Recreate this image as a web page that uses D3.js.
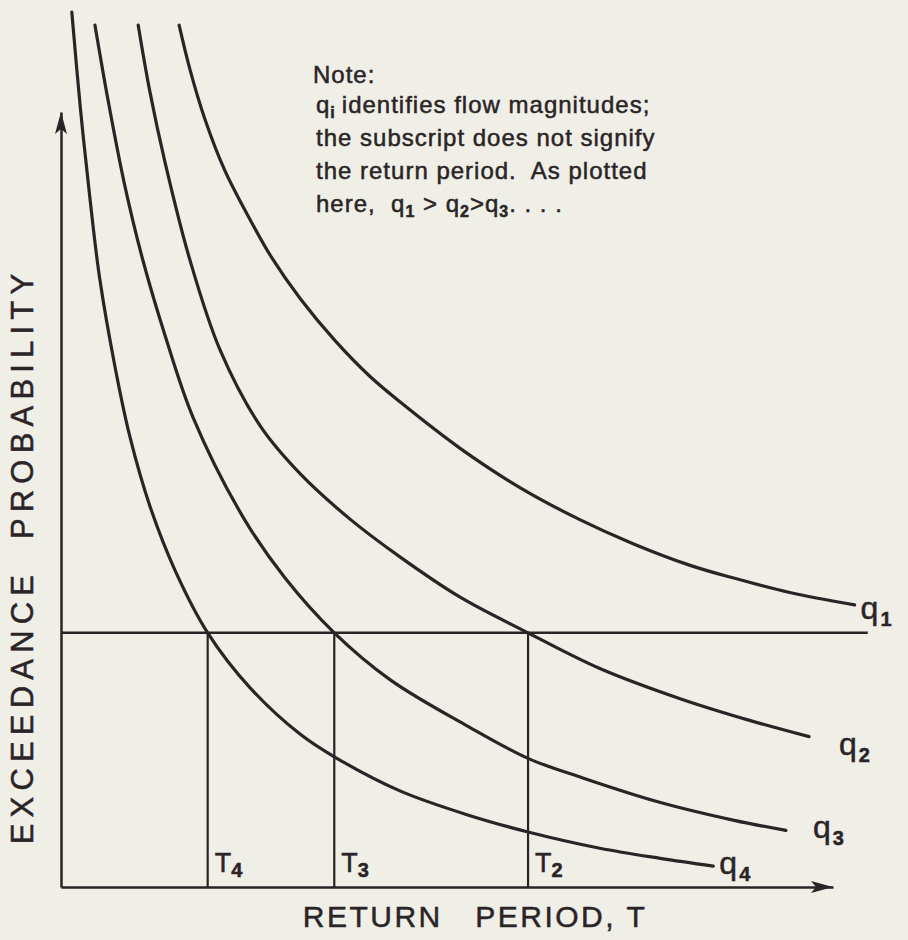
<!DOCTYPE html>
<html>
<head>
<meta charset="utf-8">
<script src="https://cdn.jsdelivr.net/npm/d3@7"></script>
<style>
  body { margin: 0; background: #efefe8; }
  svg { display: block; }
  text { font-family: "Liberation Sans", Arial, sans-serif; fill: #2b2426; stroke: #2b2426; stroke-width: 0.5; }
</style>
</head>
<body>
<script>
var width = 908,
    height = 940;

// curves of exceedance probability vs return period, one per flow magnitude
// [return period, exceedance probability] in arbitrary chart units
var q1 = [[15.3, 111.2], [16.7, 105.5], [18.6, 99.2], [21.2, 92.5], [24.5, 86.1], [27.3, 81.2],
          [31.0, 75.9], [35.5, 70.5], [40.0, 65.9], [43.9, 62.6], [51.7, 56.6], [59.5, 51.5],
          [67.2, 47.4], [74.1, 44.3], [81.5, 41.5], [87.0, 39.9], [94.4, 38.0], [102.8, 36.4]];
var q2 = [[10.0, 111.2], [11.5, 102.7], [13.5, 93.4], [16.7, 80.9], [20.6, 69.3], [25.8, 59.5],
          [31.0, 53.3], [37.4, 47.5], [43.9, 42.6], [51.7, 37.4], [60.5, 32.8], [69.8, 28.2],
          [80.2, 24.3], [89.2, 21.5], [96.9, 19.4]];
var q3 = [[4.4, 111.2], [6.1, 101.5], [8.2, 90.8], [10.6, 80.9], [13.5, 71.1], [17.1, 60.6],
          [23.6, 47.7], [29.0, 39.9], [35.4, 32.8], [42.7, 26.7], [52.6, 20.8], [60.5, 16.6],
          [67.5, 14.1], [77.3, 11.0], [87.2, 8.6], [93.9, 7.3]];
var q4 = [[1.4, 112.9], [2.5, 100.6], [3.8, 88.4], [5.0, 78.6], [7.0, 67.1], [8.9, 58.2],
          [11.5, 49.2], [14.8, 40.8], [19.0, 32.8], [24.5, 25.7], [31.0, 19.7], [35.4, 16.8],
          [43.9, 12.4], [53.0, 9.2], [60.5, 7.1], [69.8, 5.0], [77.6, 3.7], [84.5, 2.7]];

var curveNames = ['1', '2', '3', '4'];
var curves = [q1, q2, q3, q4];

// design probability and the return periods where it meets each curve
var designProb = 32.8;
var designEnd = 104.5;
var periodNames = ['2', '3', '4'];
var periods = [60.5, 35.4, 19.0];

var noteLines = ['identifies flow magnitudes;', 'the subscript does not signify',
                 'the return period.  As plotted'];

var ink = '#2b2426';

var svg = d3.select('body')
  .append('svg')
  .attr('width', width)
  .attr('height', height);

var x = d3.scaleLinear().domain([0, 100]).range([61, 833]);
var y = d3.scaleLinear().domain([0, 100]).range([887, 112]);

// axes without ticks
svg.append('g')
  .attr('transform', 'translate(0,' + y(0) + ')')
  .call(d3.axisBottom(x).tickValues([]).tickSizeOuter(0))
  .select('.domain')
  .attr('stroke', ink)
  .attr('stroke-width', 2.5);

svg.append('g')
  .attr('transform', 'translate(' + x(0) + ',0)')
  .call(d3.axisLeft(y).tickValues([]).tickSizeOuter(0))
  .select('.domain')
  .attr('stroke', ink)
  .attr('stroke-width', 2.5);

// arrow heads
svg.append('path')
  .attr('d', 'M' + x(100) + ',' + y(0) + ' l-22,-6 l5,6 l-5,6 z')
  .attr('fill', ink);
svg.append('path')
  .attr('d', 'M' + x(0) + ',' + y(100) + ' l-6,22 l6,-5 l6,5 z')
  .attr('fill', ink);

// design probability line and return periods
svg.append('line')
  .attr('x1', x(0))
  .attr('x2', x(designEnd))
  .attr('y1', y(designProb))
  .attr('y2', y(designProb))
  .attr('stroke', ink)
  .attr('stroke-width', 2.5);

svg.selectAll('line.period')
  .data(periods)
  .enter()
  .append('line')
  .attr('class', 'period')
  .attr('x1', function(d) { return x(d); })
  .attr('x2', function(d) { return x(d); })
  .attr('y1', y(designProb))
  .attr('y2', y(0))
  .attr('stroke', ink)
  .attr('stroke-width', 2.2);

var periodLabels = svg.selectAll('text.period')
  .data(periods)
  .enter()
  .append('text')
  .attr('class', 'period')
  .attr('x', function(d) { return x(d) + 7; })
  .attr('y', y(0) - 15)
  .attr('font-size', 27);
periodLabels.append('tspan').text('T');
periodLabels.append('tspan')
  .attr('dy', 5)
  .attr('font-size', 20)
  .attr('font-weight', 'bold')
  .text(function(d, i) { return periodNames[i]; });

// flow magnitude curves
var line = d3.line()
  .x(function(d) { return x(d[0]); })
  .y(function(d) { return y(d[1]); })
  .curve(d3.curveCatmullRom.alpha(0.5));

svg.selectAll('path.curve')
  .data(curves)
  .enter()
  .append('path')
  .attr('class', 'curve')
  .attr('d', line)
  .attr('fill', 'none')
  .attr('stroke', ink)
  .attr('stroke-width', 3.2)
  .attr('stroke-linecap', 'round');

var labelOffsets = [[6, 14], [30, 18], [27, 8], [6, 8]];

var curveLabels = svg.selectAll('text.curve')
  .data(curves)
  .enter()
  .append('text')
  .attr('class', 'curve')
  .attr('x', function(d, i) { return x(d[d.length - 1][0]) + labelOffsets[i][0]; })
  .attr('y', function(d, i) { return y(d[d.length - 1][1]) + labelOffsets[i][1]; })
  .attr('font-size', 32);
curveLabels.append('tspan').text('q');
curveLabels.append('tspan')
  .attr('dy', 7)
  .attr('dx', 2)
  .attr('font-size', 20)
  .attr('font-weight', 'bold')
  .text(function(d, i) { return curveNames[i]; });

// axis titles
svg.append('text')
  .attr('x', 475)
  .attr('y', 927)
  .attr('text-anchor', 'middle')
  .attr('font-size', 30)
  .attr('letter-spacing', 2.5)
  .style('white-space', 'pre')
  .text('RETURN   PERIOD, T');

svg.append('text')
  .attr('transform', 'translate(33,556) rotate(-90)')
  .attr('text-anchor', 'middle')
  .attr('font-size', 31)
  .attr('letter-spacing', 6.2)
  .style('white-space', 'pre')
  .text('EXCEEDANCE  PROBABILITY');

// note
var note = svg.append('g').attr('font-size', 24).attr('letter-spacing', 1);

note.append('text')
  .attr('x', 313)
  .attr('y', 83)
  .text('Note:');

var qi = note.append('text')
  .attr('x', 316)
  .attr('y', 113);
qi.append('tspan').text('q');
qi.append('tspan').attr('dy', 5).attr('font-size', 16).attr('font-weight', 'bold').text('i');
qi.append('tspan').attr('dy', -5).attr('dx', 6).text(noteLines[0]);

note.selectAll('text.line')
  .data(noteLines.slice(1))
  .enter()
  .append('text')
  .attr('class', 'line')
  .attr('x', 316)
  .attr('y', function(d, i) { return 146 + i * 33; })
  .style('white-space', 'pre')
  .text(function(d) { return d; });

var last = note.append('text')
  .attr('x', 316)
  .attr('y', 212)
  .style('white-space', 'pre');
last.append('tspan').text('here,  q');
last.append('tspan').attr('dy', 5).attr('font-size', 16).attr('font-weight', 'bold').text('1');
last.append('tspan').attr('dy', -5).text(' > q');
last.append('tspan').attr('dy', 5).attr('font-size', 16).attr('font-weight', 'bold').text('2');
last.append('tspan').attr('dy', -5).text('>q');
last.append('tspan').attr('dy', 5).attr('font-size', 16).attr('font-weight', 'bold').text('3');
last.append('tspan').attr('dy', -5).text('. . . .');
</script>
</body>
</html>
